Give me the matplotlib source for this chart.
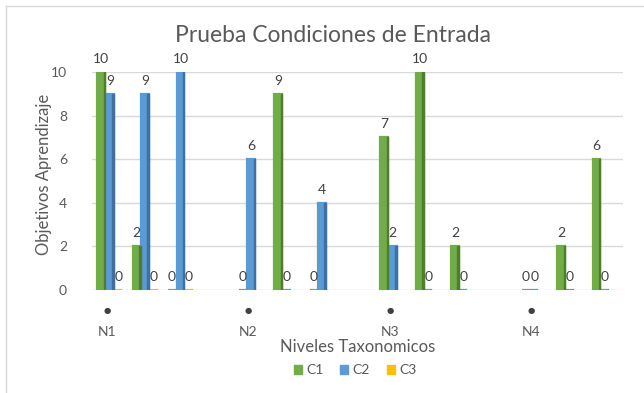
import numpy as np
import matplotlib
matplotlib.use("Agg")
import matplotlib.pyplot as plt
from matplotlib.lines import Line2D
from matplotlib.patches import Patch

plt.rcParams['font.family'] = ['Lato', 'DejaVu Sans']

title = "Prueba Condiciones de Entrada"
x_label = "Niveles Taxonomicos"
y_label = "Objetivos Aprendizaje"
series_names = ["C1", "C2", "C3"]
nan = np.nan
# 15 category slots (blank slots between groups)
group_labels = ["N1", "", "", "", "N2", "", "", "", "N3", "", "", "", "N4", "", ""]
c1 = [10, 2, 0, nan, 0, 9, 0, nan, 7, 10, 2, nan, 0, 2, 6]
c2 = [9, 9, 10, nan, 6, 0, 4, nan, 2, 0, 0, nan, 0, 0, 0]
c3 = [0, 0, 0, nan, nan, nan, nan, nan, nan, nan, nan, nan, nan, nan, nan]
y_ticks = [0, 2, 4, 6, 8, 10]

colors = ["#70AD47", "#5B9BD5", "#FFC000"]
dark = ["#4E7D31", "#3F70A0", "#C79500"]

fig = plt.figure(figsize=(6.44, 3.93), dpi=100)
ax = fig.add_axes([0.143, 0.262, 0.824, 0.555])

x = np.arange(len(group_labels))
w = 0.22
offsets = [-0.24, 0.0, 0.24]
for vals, off, col, dcol in zip([c1, c2, c3], offsets, colors, dark):
    v = np.array(vals, dtype=float)
    m = ~np.isnan(v)
    xs = x[m] + off
    ax.bar(xs, v[m], width=w, color=col, edgecolor=col, linewidth=1.6, zorder=3)
    # darker side strip for pseudo-3D look
    ax.bar(xs + w * 0.5 - w * 0.1, v[m], width=w * 0.2, color=dcol,
           edgecolor=dcol, linewidth=1.0, zorder=4)
    for xi, vi in zip(xs, v[m]):
        ax.annotate(f"{vi:g}", (xi, vi), xytext=(0, 5), textcoords="offset points",
                    ha="center", va="bottom", fontsize=10, color="#404040",
                    annotation_clip=False, zorder=6)

ax.set_xlim(-0.5, len(group_labels) - 0.5)
ax.set_ylim(0, 10)
ax.set_yticks(y_ticks)
ax.set_yticklabels([str(t) for t in y_ticks], fontsize=10, color="#595959")
ax.tick_params(axis='y', length=0, pad=18)
ax.set_xticks([])
ax.grid(axis='y', color="#D9D9D9", linewidth=1, zorder=0)
ax.set_axisbelow(True)
for s in ax.spines.values():
    s.set_visible(False)

for xi, lab in zip(x, group_labels):
    if lab:
        ax.annotate("\u25CF", (xi - 0.08, 0), xycoords=("data", "data"),
                    xytext=(0, -15), textcoords="offset points",
                    ha="center", va="center", fontsize=6, color="#404040",
                    family="DejaVu Sans", annotation_clip=False)
        ax.annotate(lab, (xi - 0.08, 0), xytext=(0, -30), textcoords="offset points",
                    ha="center", va="center", fontsize=10, color="#595959",
                    annotation_clip=False)

fig.text(358 / 644, 1 - 347 / 393, x_label, ha="center", va="center",
         fontsize=12, color="#595959")
fig.text(44 / 644, 1 - 174 / 393, y_label, ha="center", va="center",
         rotation=90, fontsize=12, color="#595959")
fig.text(333 / 644, 1 - 35 / 393, title, ha="center", va="center",
         fontsize=16.5, color="#595959")

handles = [Patch(facecolor=c, edgecolor=c) for c in colors]
fig.legend(handles, series_names, loc="center", bbox_to_anchor=(355 / 644, 1 - 370 / 393),
           ncol=3, frameon=False, fontsize=10, handlelength=0.6, handleheight=0.6,
           handletextpad=0.3, columnspacing=1.2, labelcolor="#595959")

fig.add_artist(Line2D([6 / 644, 1], [1 - 6 / 393, 1 - 6 / 393], color="#D9D9D9",
                      linewidth=1, transform=fig.transFigure))
fig.add_artist(Line2D([6 / 644, 6 / 644], [0, 1 - 6 / 393], color="#D9D9D9",
                      linewidth=1, transform=fig.transFigure))

fig.savefig("out.png", dpi=100)
